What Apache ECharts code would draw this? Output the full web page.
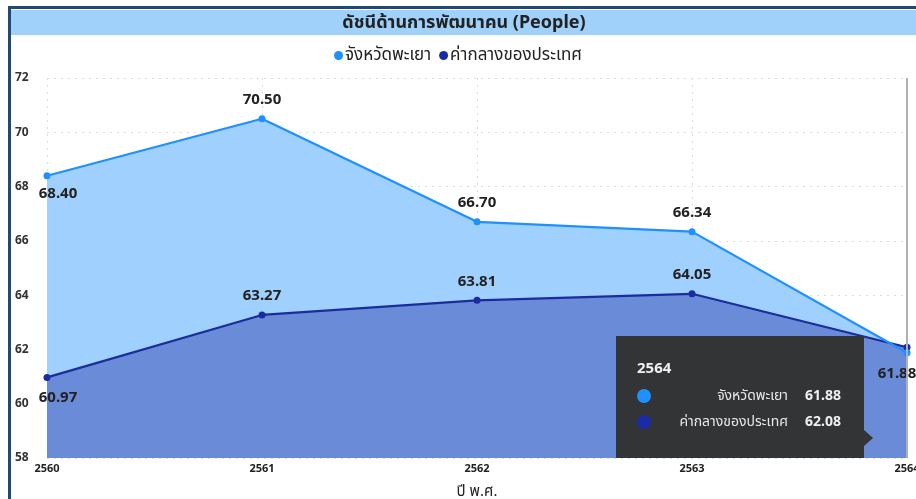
<!DOCTYPE html>
<html>
<head>
<meta charset="utf-8">
<script src="https://cdn.jsdelivr.net/npm/echarts@6/dist/echarts.min.js"></script>
<style>
html,body{margin:0;padding:0;background:#fff;}
#c{width:916px;height:499px;}
</style>
</head>
<body>
<div id="c"></div>
<script>
var titleText = 'ดัชนีด้านการพัฒนาคน (People)';
var xName = 'ปี พ.ศ.';
var years = ['2560', '2561', '2562', '2563', '2564'];
var phayaoName = 'จังหวัดพะเยา';
var nationName = 'ค่ากลางของประเทศ';
var phayao = [68.40, 70.50, 66.70, 66.34, 61.88];
var nation = [60.97, 63.27, 63.81, 64.05, 62.08];
var hoverIndex = 4;

var FONT = '"Noto Sans", "Noto Sans Thai", "DejaVu Sans", sans-serif';
var cLight = '#1e90ff', aLight = '#a0d0fd';
var cDark = '#1a2c9e', aDark = '#6a8bd8';

function labelsFor(values, special) {
  return values.map(function (v, i) {
    var d = { value: v };
    if (special[i]) d.label = special[i];
    return d;
  });
}

var baseLabel = { show: true, position: 'top', distance: 8, fontFamily: FONT, fontSize: 15, fontWeight: 'bold', color: '#222', formatter: function (p) { return p.value.toFixed(2); } };

var chart = echarts.init(document.getElementById('c'), null, { renderer: 'canvas' });

var phayaoData = labelsFor(phayao, {
  0: { position: 'bottom', offset: [11, -1] },
  4: { position: 'bottom', offset: [-10, 2] }
});
var nationData = labelsFor(nation, {
  0: { position: 'bottom', offset: [11, 1] },
  4: { show: false }
});

var tipX = 616, tipY = 336, tipW = 248, tipH = 122;

chart.setOption({
  animation: false,
  backgroundColor: '#fff',
  grid: { left: 47, right: 9, top: 78, bottom: 41, containLabel: false, outerBoundsMode: 'none' },
  legend: {
    top: 42, left: 'center',
    itemGap: 8, itemWidth: 9, itemHeight: 9,
    icon: 'circle',
    textStyle: { fontFamily: FONT, fontSize: 17, color: '#222', padding: [0, 0, 0, -3] },
    data: [{ name: phayaoName }, { name: nationName }]
  },
  xAxis: {
    type: 'category', data: years, boundaryGap: false,
    name: xName, nameLocation: 'middle', nameGap: 26,
    nameTextStyle: { fontFamily: FONT, fontSize: 15, color: '#222' },
    axisLine: { show: false }, axisTick: { show: false },
    axisLabel: { fontFamily: FONT, fontSize: 11, fontWeight: 'bold', color: '#222', margin: 5 },
    splitLine: { show: true, lineStyle: { color: '#dcdcdc', type: [2, 5], width: 1 } }
  },
  yAxis: {
    type: 'value', min: 58, max: 72, interval: 2,
    axisLine: { show: false }, axisTick: { show: false },
    axisLabel: { fontFamily: FONT, fontSize: 12, fontWeight: 'bold', color: '#333', margin: 32, align: 'left' },
    splitLine: { lineStyle: { color: '#dcdcdc', type: [2, 5], width: 1 } }
  },
  series: [
    { name: phayaoName + '_area', type: 'line', data: phayao, symbol: 'none', lineStyle: { width: 0 }, areaStyle: { color: aLight, opacity: 1, origin: 'start' }, z: 1, silent: true, label: { show: false } },
    { name: nationName + '_area', type: 'line', data: nation, symbol: 'none', lineStyle: { width: 0 }, areaStyle: { color: aDark, opacity: 1, origin: 'start' }, z: 2, silent: true, label: { show: false } },
    { name: nationName, type: 'line', data: nationData, color: cDark, symbol: 'circle', symbolSize: 7, lineStyle: { width: 2.2, color: cDark }, itemStyle: { color: cDark }, label: baseLabel, z: 3,
      markLine: { silent: true, symbol: 'none', label: { show: false }, lineStyle: { color: '#b0b0b0', width: 2, type: 'solid' }, data: [{ xAxis: years[hoverIndex] }] } },
    { name: phayaoName, type: 'line', data: phayaoData, color: cLight, symbol: 'circle', symbolSize: 7, lineStyle: { width: 2.2, color: cLight }, itemStyle: { color: cLight }, label: baseLabel, z: 4 }
  ],
  graphic: [
    { type: 'rect', x: 8, y: 6, shape: { width: 908, height: 3 }, style: { fill: '#1f4a74' }, z: 10 },
    { type: 'rect', x: 8, y: 6, shape: { width: 3, height: 493 }, style: { fill: '#1f4a74' }, z: 10 },
    { type: 'rect', x: 11, y: 10, shape: { width: 905, height: 25 }, style: { fill: '#a0d1fb' }, z: 9 },
    { type: 'text', x: 464, y: 23, style: { text: titleText, fontFamily: FONT, fontSize: 18, fontWeight: 'bold', fill: '#222', align: 'center', verticalAlign: 'middle' }, z: 11 },
    { type: 'group', x: tipX, y: tipY, z: 100, children: [
      { type: 'rect', shape: { x: 0, y: 0, width: tipW, height: tipH }, style: { fill: '#333436' }, z: 100 },
      { type: 'polygon', shape: { points: [[tipW, 94], [tipW + 9, 102], [tipW, 110]] }, style: { fill: '#333436' }, z: 100 },
      { type: 'text', style: { x: 21, y: 33, text: years[hoverIndex], fontFamily: FONT, fontSize: 15, fontWeight: 'bold', fill: '#f0f0f0', verticalAlign: 'middle' }, z: 101 },
      { type: 'circle', shape: { cx: 28, cy: 60, r: 7 }, style: { fill: cLight }, z: 101 },
      { type: 'text', style: { x: 172, y: 60, text: phayaoName, fontFamily: FONT, fontSize: 14, fill: '#e8e8e8', align: 'right', verticalAlign: 'middle' }, z: 101 },
      { type: 'text', style: { x: 189, y: 60, text: phayao[hoverIndex].toFixed(2), fontFamily: FONT, fontSize: 14, fontWeight: 'bold', fill: '#f0f0f0', align: 'left', verticalAlign: 'middle' }, z: 101 },
      { type: 'circle', shape: { cx: 28, cy: 86, r: 7 }, style: { fill: '#1a2aa8' }, z: 101 },
      { type: 'text', style: { x: 172, y: 86, text: nationName, fontFamily: FONT, fontSize: 14, fill: '#e8e8e8', align: 'right', verticalAlign: 'middle' }, z: 101 },
      { type: 'text', style: { x: 189, y: 86, text: nation[hoverIndex].toFixed(2), fontFamily: FONT, fontSize: 14, fontWeight: 'bold', fill: '#f0f0f0', align: 'left', verticalAlign: 'middle' }, z: 101 }
    ] }
  ]
});
</script>
</body>
</html>
